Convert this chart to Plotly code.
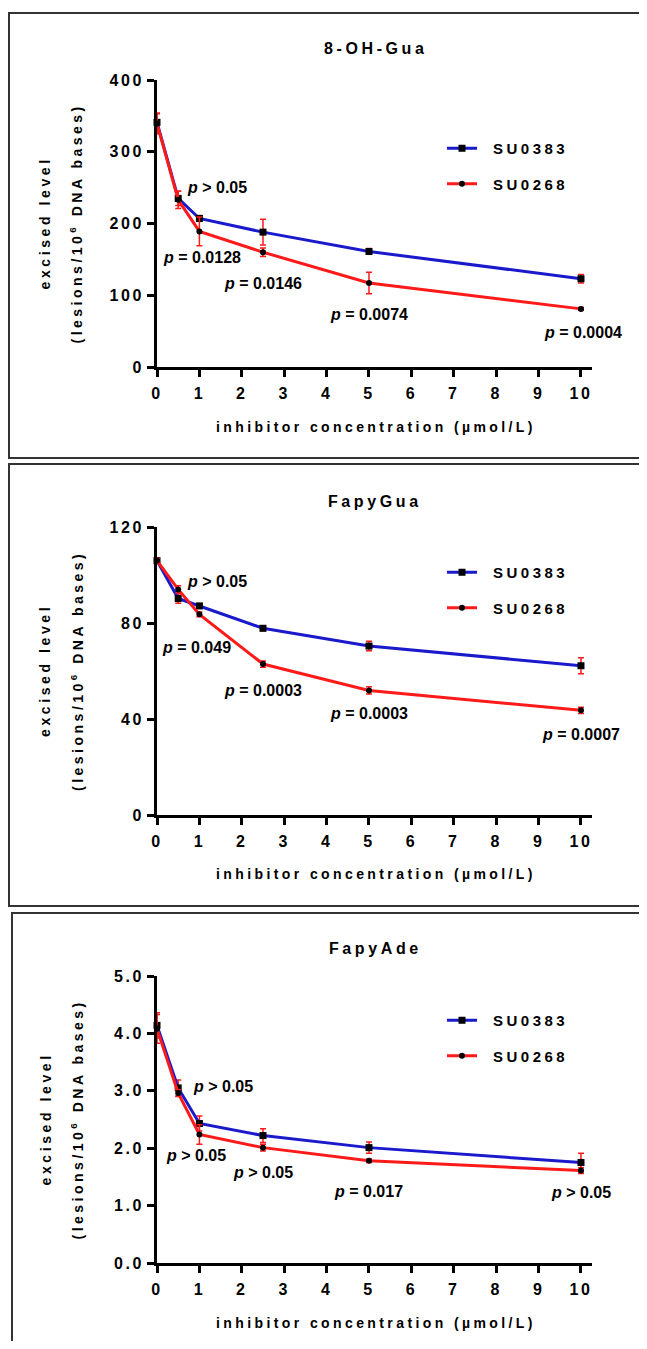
import plotly.graph_objects as go

# ---------------- data ----------------
conc = [0, 0.5, 1, 2.5, 5, 10]

# 8-OH-Gua
oh_su0383 = [341, 235, 207, 188, 161, 123]
oh_su0383_err = [13, 10, 4, 18, 4, 6]
oh_su0268 = [339, 233, 189, 160, 117, 81]
oh_su0268_err = [14, 12, 20, 6, 15, 2]
oh_pvals = ["> 0.05", "= 0.0128", "= 0.0146", "= 0.0074", "= 0.0004"]

# FapyGua
fg_su0383 = [106, 90.2, 87.1, 77.8, 70.4, 62.2]
fg_su0383_err = [1, 2, 1, 1, 2, 3.3]
fg_su0268 = [106, 94, 83.6, 62.9, 51.9, 43.6]
fg_su0268_err = [1, 1.5, 1, 1.3, 1.5, 1.3]
fg_pvals = ["> 0.05", "= 0.049", "= 0.0003", "= 0.0003", "= 0.0007"]

# FapyAde
fa_su0383 = [4.14, 3.05, 2.43, 2.22, 2.01, 1.75]
fa_su0383_err = [0.22, 0.14, 0.13, 0.12, 0.1, 0.16]
fa_su0268 = [4.08, 2.96, 2.24, 2.01, 1.78, 1.61]
fa_su0268_err = [0.25, 0.06, 0.17, 0.06, 0.03, 0.05]
fa_pvals = ["> 0.05", "> 0.05", "> 0.05", "= 0.017", "> 0.05"]

titles = ["8-OH-Gua", "FapyGua", "FapyAde"]
series_names = ["SU0383", "SU0268"]
x_ticks = [0, 1, 2, 3, 4, 5, 6, 7, 8, 9, 10]
y_ticks = [[0, 100, 200, 300, 400], [0, 40, 80, 120], [0, 1, 2, 3, 4, 5]]
y_ticklabels = [["0", "100", "200", "300", "400"], ["0", "40", "80", "120"],
                ["0.0", "1.0", "2.0", "3.0", "4.0", "5.0"]]
y_ranges = [[0, 400], [0, 120], [0, 5]]
x_title = "inhibitor concentration (µmol/L)"
y_title1 = "excised level"
y_title2 = "(lesions/10<sup>6</sup> DNA bases)"

# label positions (data coords) for p-values
oh_ppos = [(1.415, 249.5), (1.07, 152), (2.49, 117), (5.0, 72.5), (10.04, 47.4)]
fg_ppos = [(1.415, 97.5), (0.92, 69.6), (2.49, 51.7), (5.0, 42.1), (9.99, 33.75)]
fa_ppos = [(1.545, 3.08), (0.91, 1.88), (2.49, 1.585), (5.0, 1.254), (9.99, 1.22)]

# ---------------- layout geometry (window pixels) ----------------
OFF = 8                      # default body margin of the html page
W, H = 647 - 2 * OFF, 1349 - 2 * OFF
FONT = "Liberation Sans, Arial, sans-serif"
BLUE = "#1a1acc"
RED = "#ff1a1a"

panels = [
    dict(blue=oh_su0383, be=oh_su0383_err, red=oh_su0268, re=oh_su0268_err,
         p=oh_pvals, ppos=oh_ppos, ytop=80, ybot=367, title_y=49, xt_y=427,
         box=(9, 13, 458), leg_y=132),
    dict(blue=fg_su0383, be=fg_su0383_err, red=fg_su0268, re=fg_su0268_err,
         p=fg_pvals, ppos=fg_ppos, ytop=527, ybot=815, title_y=501, xt_y=874,
         box=(9, 464, 906), leg_y=556),
    dict(blue=fa_su0383, be=fa_su0383_err, red=fa_su0268, re=fa_su0268_err,
         p=fa_pvals, ppos=fa_ppos, ytop=976, ybot=1263, title_y=949, xt_y=1323,
         box=(12, 913, 1380), leg_y=1004),
]


def px(x):
    return (x - OFF) / W


def py(y):
    return 1 - (y - OFF) / H


def spaced(t, ls=3.5):
    return f'<span style="letter-spacing:{ls}px">{t}</span>'


fig = go.Figure()
layout = dict(width=W, height=H,
              margin=dict(l=0, r=0, t=0, b=0, pad=0, autoexpand=False),
              paper_bgcolor="white", plot_bgcolor="white",
              font=dict(family=FONT, color="black"), showlegend=True)
annotations = []
shapes = []

for i, pn in enumerate(panels):
    n = "" if i == 0 else str(i + 1)
    xa, ya = "x" + n, "y" + n
    leg = "legend" if i == 0 else "legend" + str(i + 1)
    for name, vals, err, color, sym, size in [
        (series_names[0], pn["blue"], pn["be"], BLUE, "square", 7),
        (series_names[1], pn["red"], pn["re"], RED, "circle", 6),
    ]:
        fig.add_trace(go.Scatter(
            x=conc, y=vals, mode="lines+markers",
            name=spaced("<b>\u2002" + name + "</b>", 3.5),
            xaxis=xa, yaxis=ya, legend=leg, legendgroup=f"{name}{i}",
            line=dict(color=color, width=3),
            marker=dict(symbol=sym, size=size, color="black"),
            error_y=dict(type="data", array=err, visible=True, color=RED,
                         thickness=1.5, width=3),
            cliponaxis=False,
        ))
    layout["xaxis" + n] = dict(
        domain=[px(157), px(592)], range=[0, 10.26], anchor=ya,
        tickvals=x_ticks, ticktext=[spaced(f"<b>{t}</b>", 2.5) for t in x_ticks],
        ticks="outside", ticklen=7, tickwidth=2.5, tickcolor="black",
        showline=True, linewidth=3, linecolor="black", showgrid=False,
        zeroline=False, tickfont=dict(size=16, family=FONT),
        ticklabelstandoff=3, automargin=False,
    )
    layout["yaxis" + n] = dict(
        domain=[py(pn["ybot"]), py(pn["ytop"])], range=y_ranges[i], anchor=xa,
        tickvals=y_ticks[i],
        ticktext=[spaced(f"<b>{t}</b>", 2.5) for t in y_ticklabels[i]],
        ticks="outside", ticklen=7, tickwidth=2.5, tickcolor="black",
        showline=True, linewidth=3, linecolor="black", showgrid=False,
        zeroline=False, tickfont=dict(size=16, family=FONT), automargin=False,
    )
    layout[leg] = dict(
        x=px(442), y=py(pn["leg_y"]), xanchor="left", yanchor="top",
        bgcolor="rgba(0,0,0,0)", borderwidth=0,
        traceorder="grouped", tracegroupgap=13,
        font=dict(size=15, family=FONT),
    )
    # title
    annotations.append(dict(
        text=spaced(f"<b>{titles[i]}</b>", 3.6), x=px(375), y=py(pn["title_y"]),
        xref="paper", yref="paper", showarrow=False, xanchor="center",
        yanchor="middle", font=dict(size=16, family=FONT)))
    # x title
    annotations.append(dict(
        text=spaced(f"<b>{x_title}</b>", 3.4), x=px(376), y=py(pn["xt_y"]),
        xref="paper", yref="paper", showarrow=False, xanchor="center",
        yanchor="middle", font=dict(size=14, family=FONT)))
    # y titles
    yc = py((pn["ytop"] + pn["ybot"]) / 2)
    annotations.append(dict(
        text=spaced(f"<b>{y_title1}</b>", 3.6), x=px(45), y=yc,
        xref="paper", yref="paper", showarrow=False, textangle=-90,
        xanchor="center", yanchor="middle", font=dict(size=14, family=FONT)))
    annotations.append(dict(
        text=spaced(f"<b>{y_title2}</b>", 3.5), x=px(77), y=yc,
        xref="paper", yref="paper", showarrow=False, textangle=-90,
        xanchor="center", yanchor="middle", font=dict(size=14, family=FONT)))
    # p-values
    for txt, (ax_, ay_) in zip(pn["p"], pn["ppos"]):
        annotations.append(dict(
            text=f"<b><i>p</i> {txt}</b>", x=ax_, y=ay_, xref=xa, yref=ya,
            showarrow=False, xanchor="center", yanchor="middle",
            font=dict(size=16, family=FONT)))
    # frame
    bx, by0, by1 = pn["box"]
    shapes.append(dict(type="rect", xref="paper", yref="paper",
                       x0=px(bx), x1=px(670), y0=py(by1), y1=py(by0),
                       line=dict(color="#333333", width=2)))

layout["annotations"] = annotations
layout["shapes"] = shapes
fig.update_layout(**layout)
fig.write_html("out.html")
